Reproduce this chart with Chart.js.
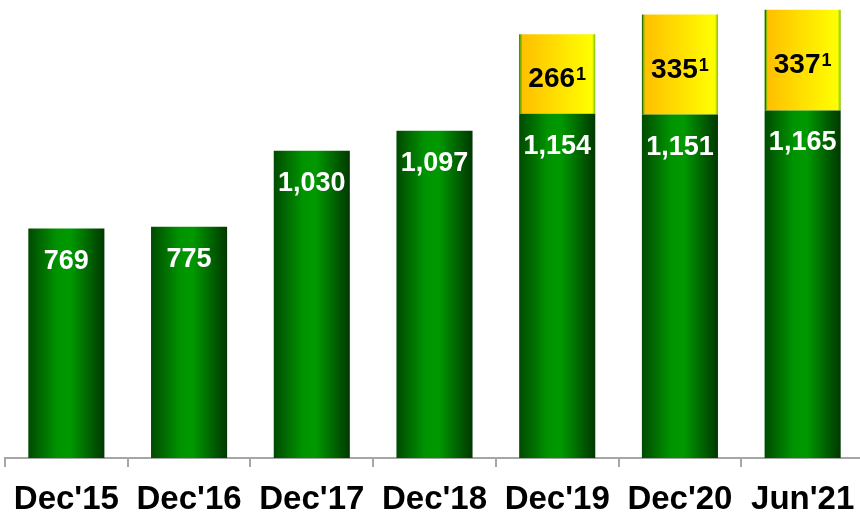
<!DOCTYPE html>
<html><head><meta charset="utf-8">
<script src="https://cdn.jsdelivr.net/npm/chart.js@4"></script>
<style>html,body{margin:0;padding:0;background:#fff;overflow:hidden;width:860px;height:514px}
canvas{display:block}</style></head>
<body><canvas id="c" width="864" height="533"></canvas>
<script>
const categories = ["Dec'15","Dec'16","Dec'17","Dec'18","Dec'19","Dec'20","Jun'21"];
const baseValues = [769, 775, 1030, 1097, 1154, 1151, 1165];
const addValues = [null, null, null, null, 266, 335, 337];
const addNotes = ['', '', '', '', '1', '1', '1'];

const FONT = '"Liberation Sans", Arial, sans-serif';
const BAR_PCT = 0.62;

function barSpan(c) {
  const ch = c.chart;
  const xs = ch.scales && ch.scales.x;
  if (!xs || !ch.chartArea) return null;
  const cx = xs.getPixelForValue(c.dataIndex);
  const w = (xs.width / categories.length) * BAR_PCT;
  return [cx - w / 2, cx + w / 2];
}
function greenFill(c) {
  const s = barSpan(c);
  if (!s) return '#008000';
  const g = c.chart.ctx.createLinearGradient(s[0], 0, s[1], 0);
  g.addColorStop(0, '#004a00');
  g.addColorStop(0.38, '#009400');
  g.addColorStop(0.55, '#009900');
  g.addColorStop(1, '#003800');
  return g;
}
function yellowFill(c) {
  const s = barSpan(c);
  if (!s) return '#ffd700';
  const g = c.chart.ctx.createLinearGradient(s[0], 0, s[1], 0);
  g.addColorStop(0, '#2f6e00');
  g.addColorStop(0.013, '#2f6e00');
  g.addColorStop(0.014, '#6aa800');
  g.addColorStop(0.03, '#8fbf00');
  g.addColorStop(0.04, '#ffc000');
  g.addColorStop(0.96, '#ffff00');
  g.addColorStop(0.975, '#c8e800');
  g.addColorStop(1, '#7cc000');
  return g;
}

const labelPlugin = {
  id: 'valueLabels',
  afterDatasetsDraw(chart) {
    const ctx = chart.ctx;
    ctx.save();
    const m0 = chart.getDatasetMeta(0);
    ctx.fillStyle = '#ffffff';
    ctx.font = 'bold 27px ' + FONT;
    ctx.textAlign = 'center';
    ctx.textBaseline = 'alphabetic';
    m0.data.forEach((el, i) => {
      const v = baseValues[i];
      if (v == null) return;
      ctx.fillText(v.toLocaleString('en-US'), el.x, el.y + 30 + 10);
    });
    const m1 = chart.getDatasetMeta(1);
    m1.data.forEach((el, i) => {
      const v = addValues[i];
      if (v == null) return;
      const mid = (el.y + el.base) / 2 + 3;
      ctx.font = 'bold 28px ' + FONT;
      const main = v.toLocaleString('en-US');
      const w1 = ctx.measureText(main).width;
      ctx.font = 'bold 18px ' + FONT;
      const note = addNotes[i];
      const w2 = ctx.measureText(note).width;
      const total = w1 + w2 + 1;
      const x0 = el.x - total / 2;
      ctx.fillStyle = '#000000';
      ctx.textAlign = 'left';
      ctx.font = 'bold 28px ' + FONT;
      ctx.fillText(main, x0, mid + 10);
      ctx.font = 'bold 18px ' + FONT;
      ctx.fillText(note, x0 + w1 + 1, mid - 10 + 13);
    });
    ctx.restore();
  }
};

new Chart(document.getElementById('c'), {
  type: 'bar',
  data: {
    labels: categories,
    datasets: [
      { data: baseValues, backgroundColor: greenFill, borderWidth: 0, barPercentage: BAR_PCT, categoryPercentage: 1 },
      { data: addValues, backgroundColor: yellowFill, borderWidth: 0, barPercentage: BAR_PCT, categoryPercentage: 1 }
    ]
  },
  options: {
    responsive: false,
    animation: false,
    layout: { padding: { left: 5, right: 0, top: 0, bottom: 0 } },
    plugins: { legend: { display: false }, tooltip: { enabled: false } },
    scales: {
      x: {
        stacked: true,
        offset: true,
        grid: { display: true, offset: true, drawOnChartArea: false, drawTicks: true, tickLength: 9, color: '#a6a6a6', lineWidth: 2 },
        border: { display: true, color: '#a6a6a6', width: 2 },
        ticks: { color: '#000000', padding: 0, maxRotation: 0, autoSkip: false,
                 font: { family: FONT, size: 33, weight: 'bold', lineHeight: '66px' } }
      },
      y: { stacked: true, display: false, min: 0, max: 1535 }
    }
  },
  plugins: [labelPlugin]
});
</script>
</body></html>
